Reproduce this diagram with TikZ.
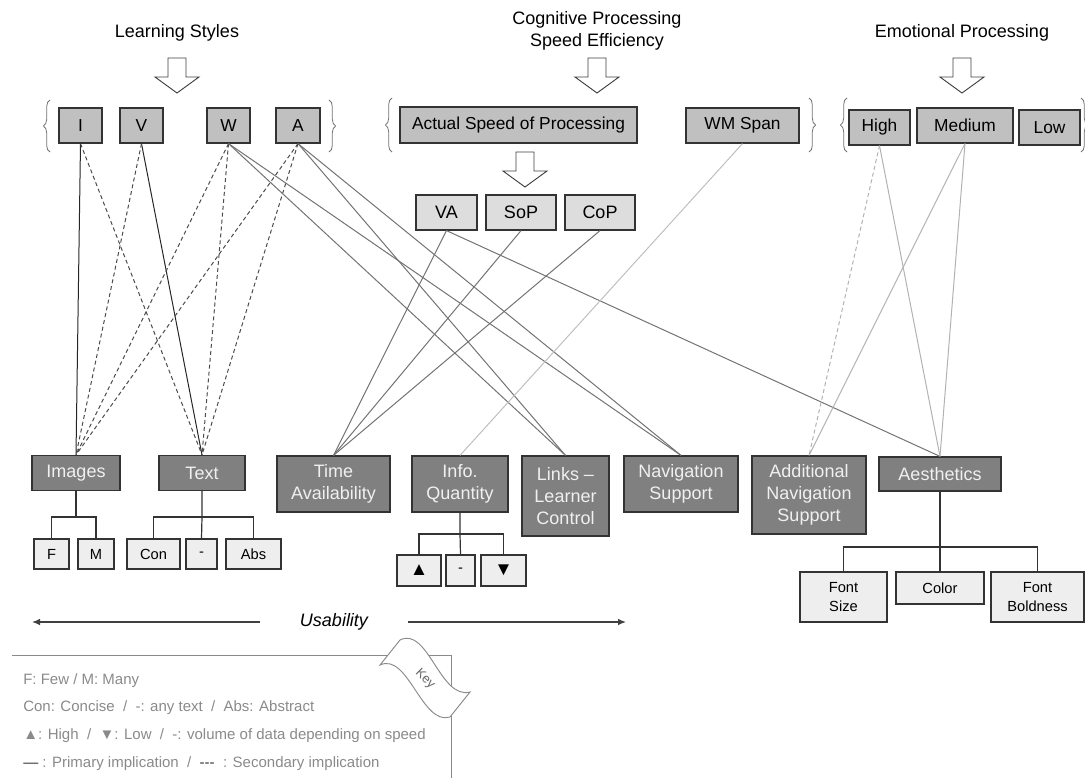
\documentclass[tikz,border=0pt]{standalone}
\usepackage{fontspec}
\setmainfont{Liberation Sans}
\usetikzlibrary{positioning,arrows.meta,decorations.pathreplacing}
\definecolor{boxline}{HTML}{333333}
\definecolor{topfill}{HTML}{C0C0C0}
\definecolor{midfill}{HTML}{DDDDDD}
\definecolor{catfill}{HTML}{808080}
\definecolor{subfill}{HTML}{EEEEEE}
\definecolor{keygrey}{HTML}{8A8A8A}

\tikzset{
  boxsize/.style 2 args={minimum width={#1*0.75pt}, minimum height={#2*0.75pt}},
  topbox/.style={draw=boxline, fill=topfill, line width=0.9pt, font=\fontsize{13}{15}\selectfont},
  midbox/.style={draw=boxline, fill=midfill, line width=0.9pt, font=\fontsize{13.5}{15}\selectfont},
  catbox/.style={draw=boxline, fill=catfill, line width=0.9pt, text=white!94!black, align=center,
    font=\fontsize{13.5}{16.5}\selectfont},
  subbox/.style={draw=boxline, fill=subfill, line width=0.9pt, align=center,
    font=\fontsize{11}{14}\selectfont},
  title/.style={align=center, font=\fontsize{13.5}{17}\selectfont},
  primary/.style={draw=black!85, line width=0.75pt},
  secondary/.style={draw=black!70, line width=0.75pt, dash pattern=on 3pt off 2.2pt},
  link/.style={draw=black!55, line width=0.75pt},
  faint/.style={draw=black!25, line width=0.75pt},
  emo/.style={draw=black!30, line width=0.75pt},
  tree/.style={draw=boxline, line width=0.9pt},
  curly/.style={draw=black!55, line width=0.6pt, decorate, decoration={brace, amplitude=5pt, aspect=0.5}},
  keytext/.style={anchor=west, text=keygrey, font=\fontsize{11.25}{13}\selectfont},
  keyline/.style={draw=keygrey, line width=0.7pt},
  downarrow/.pic={\draw[draw=black!75, fill=white, line width=0.7pt]
    (-9,0) -- (9,0) -- (9,19) -- (22,19) -- (0,35) -- (-22,19) -- (-9,19) -- cycle;}
}

\begin{document}
\begin{tikzpicture}[x=0.75pt,y=-0.75pt, every node/.style={inner sep=0pt}]
  \useasboundingbox (0,0) rectangle (1085,778);

  % titles and big arrows
  \node[title] (lstitle) at (177,33) {Learning Styles};
  \node[title] (cptitle) at (597,31) {Cognitive Processing\\Speed Efficiency};
  \node[title] (eptitle) at (962,33) {Emotional Processing};
  \pic at (177,58) {downarrow};
  \pic at (597,58) {downarrow};
  \pic at (962,58) {downarrow};
  \pic at (525,152) {downarrow};

  % top row
  \node[topbox, boxsize={43}{35}] (I) at (80.5,125.5) {I};
  \node[topbox, boxsize={43}{35}] (V) at (141.5,125.5) {V};
  \node[topbox, boxsize={43}{35}] (W) at (228.5,125.5) {W};
  \node[topbox, boxsize={44}{35}] (A) at (298,125.5) {A};
  \node[topbox, boxsize={237}{36}] (speed) at (518.5,125) {Actual Speed of Processing};
  \node[topbox, boxsize={113}{35}] (wmspan) at (742.5,125.5) {WM Span};
  \node[topbox, boxsize={61}{35}] (high) at (879.5,127.5) {High};
  \node[topbox, boxsize={96}{35}] (medium) at (965,125.5) {Medium};
  \node[topbox, boxsize={61}{35}] (low) at (1049.5,127.5) {Low};

  % braces
  \draw[curly] (50,152) -- (50,100);
  \draw[curly] (329,100) -- (329,152);
  \draw[curly] (392,152) -- (392,98);
  \draw[curly] (809,98) -- (809,152);
  \draw[curly] (847,152) -- (847,98);
  \draw[curly] (1081,98) -- (1081,152);

  % speed components
  \node[midbox, boxsize={61}{35}] (va) at (446.5,212.5) {VA};
  \node[midbox, boxsize={70}{35}] (sop) at (521,212.5) {SoP};
  \node[midbox, boxsize={70}{35}] (cop) at (600,212.5) {CoP};

  % usability factors
  \node[catbox, boxsize={88}{35}] (images) at (76,473) {Images};
  \node[catbox, boxsize={86}{35}] (txt) at (202,473) {Text};
  \node[catbox, boxsize={113}{56}] (time) at (333.5,484) {Time\\Availability};
  \node[catbox, boxsize={96}{56}] (info) at (460,484) {Info.\\Quantity};
  \node[catbox, boxsize={87}{80}] (links) at (565.5,496) {Links –\\Learner\\Control};
  \node[catbox, boxsize={114}{56}] (nav) at (681,484) {Navigation\\Support};
  \node[catbox, boxsize={114}{78}] (addnav) at (809,495) {Additional\\Navigation\\Support};
  \node[catbox, boxsize={122}{34}] (aesth) at (940,474) {Aesthetics};

  % sub items
  \node[subbox, boxsize={35}{30}] (few) at (51.5,554) {F};
  \node[subbox, boxsize={36}{30}] (many) at (96,554) {M};
  \node[subbox, boxsize={53}{30}] (con) at (153.5,554) {Con};
  \node[subbox, boxsize={31}{30}] (anytext) at (201.5,554) {-};
  \node[subbox, boxsize={55}{30}] (abs) at (253.5,554) {Abs};
  \node[subbox, boxsize={44}{31}, font=\fontsize{14}{14}\selectfont] (up) at (419,570.5) {▲};
  \node[subbox, boxsize={29}{31}] (same) at (460.5,570.5) {-};
  \node[subbox, boxsize={45}{31}, font=\fontsize{14}{14}\selectfont] (down) at (503.5,570.5) {▼};
  \node[subbox, boxsize={87}{50}] (fsize) at (843.5,597) {Font\\Size};
  \node[subbox, boxsize={88}{32}] (fcolor) at (940,588) {Color};
  \node[subbox, boxsize={93}{50}] (fbold) at (1037.5,597) {Font\\Boldness};

  % trees
  \coordinate (imgfork) at (76,517);
  \coordinate (txtfork) at (202,517);
  \coordinate (infofork) at (460,534);
  \coordinate (aesfork) at (940,547);
  \draw[tree] (images.south) -- (imgfork);
  \draw[tree] (few.north) |- (imgfork) -| (many.north);
  \draw[tree] (txt.south) -- (txtfork) -- (anytext.north);
  \draw[tree] (con.north) |- (txtfork) -| (abs.north);
  \draw[tree] (info.south) -- (infofork) -- (same.north);
  \draw[tree] (up.north) |- (infofork) -| (down.north);
  \draw[tree] (aesth.south) -- (aesfork) -- (fcolor.north);
  \draw[tree] (fsize.north) |- (aesfork) -| (fbold.north);

  % implications
  \draw[primary] (I.south) -- (images.north);
  \draw[primary] (V.south) -- (txt.north);
  \foreach \s/\t in {I/txt,V/images,W/images,W/txt,A/images,A/txt}
    \draw[secondary] (\s.south) -- (\t.north);
  \foreach \s/\t in {W/links,W/nav,A/links,A/nav,va/time,sop/time,cop/time,va/aesth}
    \draw[link] (\s.south) -- (\t.north);
  \draw[faint] (wmspan.south) -- (info.north);
  \draw[emo, dash pattern=on 3pt off 2.2pt] (high.south) -- (addnav.north);
  \foreach \s/\t in {high/aesth,medium/addnav,medium/aesth}
    \draw[emo] (\s.south) -- (\t.north);

  % usability axis
  \node[font=\itshape\fontsize{13.5}{15}\selectfont, inner xsep=30pt] (usab) at (334,622) {Usability};
  \coordinate (uleft) at (32,622);
  \coordinate (uright) at (626,622);
  \draw[draw=black!75, line width=1pt, -{Latex[length=6pt,width=5pt]}] (usab.west) -- (uleft);
  \draw[draw=black!75, line width=1pt, -{Latex[length=6pt,width=5pt]}] (usab.east) -- (uright);

  % key
  \draw[keyline] (12,655) -- (451,655) -- (451,778);
  \draw[keyline, fill=white] (380,665) -- (400,640)
    .. controls (428,626) and (440,700) .. (470,692) -- (450,717)
    .. controls (422,726) and (408,652) .. (380,665) -- cycle;
  \node[text=black!60, font=\fontsize{9.5}{11}\selectfont, rotate=-45] (keylabel) at (425,679) {Key};
  \node[keytext] (key1) at (23,681) {F: Few / M: Many};
  \node[keytext] (key2) at (23,708) {Con: Concise\ \ /\ \ -: any text\ \ /\ \ Abs: Abstract};
  \node[keytext] (key3) at (23,736) {▲: High\ \ /\ \ ▼: Low\ \ /\ \ -: volume of data depending on speed};
  \node[keytext] (key4) at (23,764) {\textcolor{boxline}{—}\ : Primary implication\ \ /\ \ \textcolor{boxline}{-{}-{}-}\ \ : Secondary implication};
\end{tikzpicture}
\end{document}
